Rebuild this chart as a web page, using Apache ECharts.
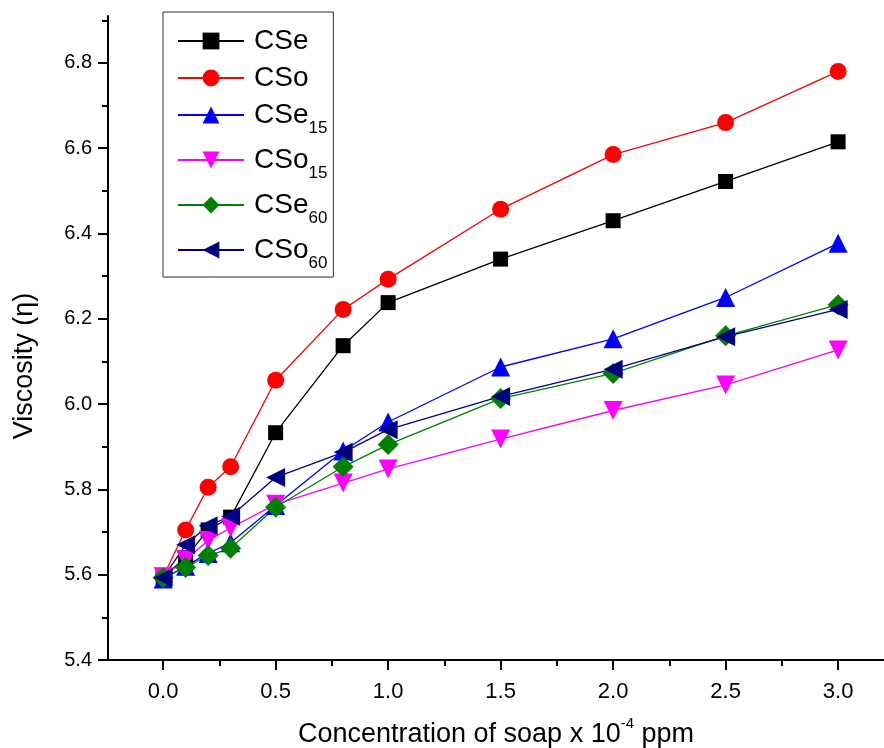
<!DOCTYPE html>
<html>
<head>
<meta charset="utf-8">
<script src="https://cdn.jsdelivr.net/npm/echarts@6/dist/echarts.min.js"></script>
<style>
  html, body { margin: 0; padding: 0; background: #fff; }
  #chart { width: 884px; height: 748px; }
</style>
</head>
<body>
<div id="chart"></div>
<script>
// soap concentration (x 10^-4 ppm)
const conc = [0, 0.1, 0.2, 0.3, 0.5, 0.8, 1.0, 1.5, 2.0, 2.5, 3.0]

// viscosity values
const cse   = [5.595, 5.640, 5.705, 5.735, 5.933, 6.137, 6.238, 6.340, 6.430, 6.522, 6.615]
const cso   = [5.595, 5.705, 5.805, 5.853, 6.056, 6.222, 6.293, 6.457, 6.585, 6.660, 6.780]
const cse15 = [5.590, 5.620, 5.650, 5.675, 5.762, 5.890, 5.958, 6.087, 6.153, 6.250, 6.377]
const cso15 = [5.595, 5.635, 5.680, 5.710, 5.765, 5.815, 5.848, 5.918, 5.985, 6.045, 6.127]
const cse60 = [5.593, 5.617, 5.645, 5.662, 5.758, 5.853, 5.905, 6.013, 6.072, 6.160, 6.233]
const cso60 = [5.593, 5.670, 5.715, 5.737, 5.828, 5.887, 5.940, 6.018, 6.082, 6.158, 6.222]

const xMajor = [0, 0.5, 1.0, 1.5, 2.0, 2.5, 3.0]
const xMinor = [0.25, 0.75, 1.25, 1.75, 2.25, 2.75]
const yMajor = [5.4, 5.6, 5.8, 6.0, 6.2, 6.4, 6.6, 6.8]
const yMinor = [5.5, 5.7, 5.9, 6.1, 6.3, 6.5, 6.7, 6.9]

const seriesDefs = [
  { name: 'CSe',   data: cse,   color: '#000000', symbol: 'rect',     size: 15, rotate: 0 },
  { name: 'CSo',   data: cso,   color: '#ff0000', symbol: 'circle',   size: 17, rotate: 0 },
  { name: 'CSe15', data: cse15, color: '#0000ff', symbol: 'triangle', size: 19, rotate: 0 },
  { name: 'CSo15', data: cso15, color: '#ff00ff', symbol: 'triangle', size: 19, rotate: 180 },
  { name: 'CSe60', data: cse60, color: '#008000', symbol: 'diamond',  size: 21, rotate: 0 },
  { name: 'CSo60', data: cso60, color: '#000080', symbol: 'triangle', size: 19, rotate: 90 }
]

const font = 'Arial, "Liberation Sans", sans-serif'

const chart = echarts.init(document.getElementById('chart'))

chart.setOption({
  animation: false,
  backgroundColor: '#fff',
  grid: { left: 108, right: 0, top: 16, bottom: 88, containLabel: false, outerBoundsMode: 'none' },
  legend: {
    orient: 'vertical',
    left: 163,
    top: 12,
    padding: [15, 6, 5, 14],
    itemGap: 9,
    itemWidth: 66,
    itemHeight: 21,
    borderColor: '#333',
    borderWidth: 1,
    data: seriesDefs.map(s => s.name),
    formatter: name => {
      const m = name.match(/^(CS[eo])(\d*)$/)
      return m[2] ? `{n|${m[1]}}{sub|${m[2]}}` : `{n0|${m[1]}}`
    },
    textStyle: {
      fontFamily: font,
      color: '#000',
      rich: {
        n0: { fontSize: 28, fontFamily: font, lineHeight: 28, padding: [0, 0, 0, 5], verticalAlign: 'middle' },
        n: { fontSize: 28, fontFamily: font, lineHeight: 44, padding: [0, 0, 0, 5], verticalAlign: 'middle' },
        sub: { fontSize: 17, fontFamily: font, lineHeight: 44, verticalAlign: 'bottom' }
      }
    }
  },
  xAxis: [
    {
      type: 'value',
      min: -0.245,
      max: 3.204,
      name: '{t|Concentration of soap x 10}{sup|-4}{t| ppm}',
      nameLocation: 'middle',
      nameGap: 56,
      nameTextStyle: {
        rich: {
          t: { fontSize: 27, fontFamily: font, color: '#000', lineHeight: 32, verticalAlign: 'bottom' },
          sup: { fontSize: 15, fontFamily: font, color: '#000', lineHeight: 32, verticalAlign: 'top' }
        }
      },
      splitLine: { show: false },
      axisLine: { onZero: false, lineStyle: { color: '#000', width: 2 } },
      axisTick: { customValues: xMajor, inside: false, length: 10, lineStyle: { color: '#000', width: 2 } },
      axisLabel: {
        customValues: xMajor,
        formatter: v => v.toFixed(1),
        margin: 21,
        fontSize: 22,
        fontFamily: font,
        color: '#000'
      }
    },
    {
      type: 'value',
      min: -0.245,
      max: 3.204,
      position: 'bottom',
      splitLine: { show: false },
      axisLine: { show: false, onZero: false },
      axisTick: { customValues: xMinor, inside: false, length: 6, lineStyle: { color: '#000', width: 2 } },
      axisLabel: { show: false }
    }
  ],
  yAxis: [
    {
      type: 'value',
      min: 5.4,
      max: 6.91,
      name: 'Viscosity (η)',
      nameLocation: 'middle',
      nameGap: 70,
      nameRotate: 90,
      nameTextStyle: { fontSize: 27, fontFamily: font, color: '#000', padding: [0, 56, 0, 0] },
      splitLine: { show: false },
      axisLine: { onZero: false, lineStyle: { color: '#000', width: 2 } },
      axisTick: { customValues: yMajor, inside: false, length: 10, lineStyle: { color: '#000', width: 2 } },
      axisLabel: {
        customValues: yMajor,
        formatter: v => v.toFixed(1),
        margin: 16,
        fontSize: 20,
        fontFamily: font,
        color: '#000'
      }
    },
    {
      type: 'value',
      min: 5.4,
      max: 6.91,
      position: 'left',
      splitLine: { show: false },
      axisLine: { show: false, onZero: false },
      axisTick: { customValues: yMinor, inside: false, length: 6, lineStyle: { color: '#000', width: 2 } },
      axisLabel: { show: false }
    }
  ],
  series: seriesDefs.map(s => ({
    name: s.name,
    type: 'line',
    xAxisIndex: 0,
    yAxisIndex: 0,
    data: conc.map((x, i) => [x, s.data[i]]),
    symbol: s.symbol,
    symbolSize: s.size,
    symbolRotate: s.rotate,
    showAllSymbol: true,
    color: s.color,
    lineStyle: { width: 1.3, color: s.color },
    itemStyle: { color: s.color }
  }))
})
</script>
</body>
</html>
